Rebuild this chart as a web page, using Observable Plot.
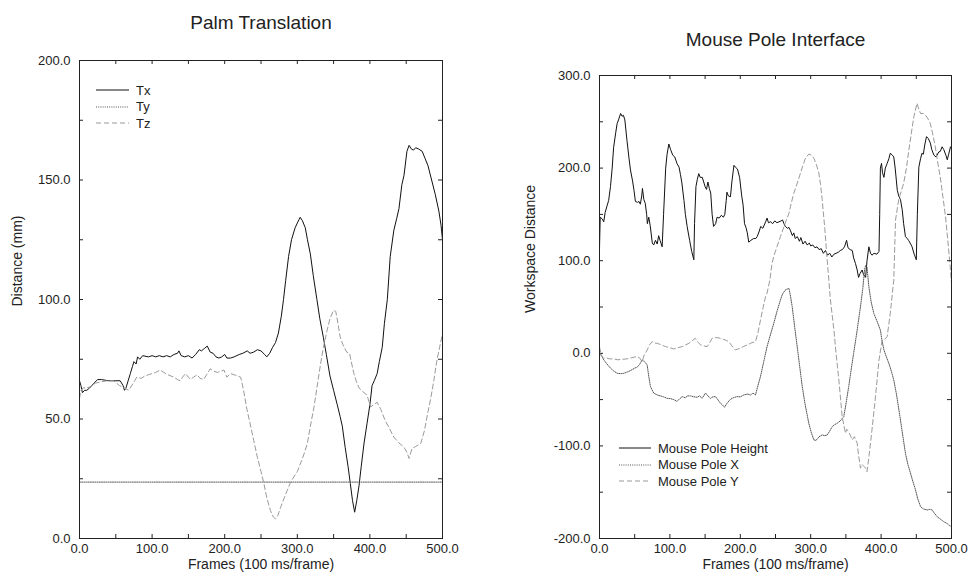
<!DOCTYPE html>
<html><head><meta charset="utf-8">
<script src="https://cdn.jsdelivr.net/npm/d3@7"></script>
<script src="https://cdn.jsdelivr.net/npm/@observablehq/plot@0.6"></script>
<style>
body{margin:0;background:#fff;font-family:"Liberation Sans",Arial,Helvetica,sans-serif;}
#wrap{position:relative;width:968px;height:577px;overflow:hidden;}
.panel{position:absolute;top:0;}
.legend{position:absolute;font-size:13px;color:#222;}
.legend .row{display:flex;align-items:center;height:16.5px;white-space:nowrap;}
.legend svg{display:block;margin-right:7px;}
</style></head><body><div id="wrap"></div><script>
// ---------- Data (frames, value) ----------
const xTicksMinor = [0,50,100,150,200,250,300,350,400,450,500];
const xTicksMajor = [0,100,200,300,400,500];
const leftYTicksMinor = [0,25,50,75,100,125,150,175,200];
const leftYTicksMajor = [0,50,100,150,200];
const rightYTicksMinor = [-200,-150,-100,-50,0,50,100,150,200,250,300];
const rightYTicksMajor = [-200,-100,0,100,200,300];

const tx = [[0,66],[2,64],[4,61],[7,62],[10,62],[14,63],[20,65],[25,66.5],[30,66.5],[40,66],[50,66],[56,66],[60,64],[62,62],[64,63],[67,66],[70,69],[73,72],[75,74],[78,73],[80,76],[83,75],[87,76.5],[95,76],[100,76.5],[105,76],[110,76.5],[115,76],[120,76.5],[125,76],[130,77],[135,77.5],[137,78.5],[140,76.5],[145,76],[150,76.5],[155,75.5],[160,77],[165,79],[168,78.5],[172,79.5],[176,80.5],[180,78],[184,77.5],[188,76],[192,75.5],[196,76],[200,77],[203,75.5],[208,75.5],[213,76],[220,77],[225,77.5],[231,78.5],[235,77.5],[240,78],[245,79],[250,78.5],[255,77],[258,76],[262,77.5],[266,80],[270,82],[274,86],[278,93],[281,100],[284,108],[288,118],[292,125],[297,130],[300,132],[304,134.4],[307,133],[311,130],[314,125],[318,119],[322,110],[327,100],[331,92],[336,84],[340,77],[345,68],[350,62],[355,56],[359,51],[362,47],[366,38],[370,30],[373,23],[376,16],[379,11],[382,16],[385,22],[388,30],[392,40],[396,48],[400,56],[403,64],[406,66],[410,69],[413,74],[417,80],[420,90],[424,100],[428,118],[433,129],[437,134],[440,138],[444,148],[447,152],[451,162],[454,164.5],[457,163],[460,162.5],[463,163.5],[467,163],[472,162],[476,159],[480,156],[485,150],[490,144],[495,137],[498,131],[500,125]];
const ty = [[0,23.6],[500,23.6]];
const tz = [[0,58.6],[2,62],[5,63],[10,63],[15,63.5],[22,65],[29,65.5],[38,66],[47,66],[55,64],[62,63],[68,62],[72,64],[76,66],[79,67.5],[85,67],[90,68],[95,68.5],[100,69],[105,69.5],[111,70.5],[116,69.5],[122,68.5],[130,67.5],[135,66.5],[139,66],[142,67.5],[146,69],[150,67.5],[153,66.5],[157,67.5],[162,68.5],[166,67],[171,66.5],[175,68.5],[180,71],[185,70],[190,69.5],[195,70],[199,70.5],[203,67.5],[208,69],[213,68.5],[218,68],[222,67.5],[226,62],[230,55],[235,48],[240,41],[245,34],[250,28],[254,23],[258,17],[263,11.7],[267,9],[270,8.2],[273,9.5],[277,13],[282,17],[286,20],[290,23],[295,25.7],[300,28],[306,32.6],[310,36],[314,40],[318,47],[323,55],[327,63],[332,73],[336,80],[341,87],[345,92],[350,95.5],[353,95],[356,90],[359,84.4],[363,81],[368,78],[372,77.5],[375,73],[378,69],[381,66],[385,63],[390,61.5],[396,60],[401,55],[405,56],[410,57],[415,54],[421,49.4],[427,46],[433,42.4],[440,40],[447,38.2],[451,36],[454,33.5],[458,37.7],[463,38.5],[470,39.7],[475,45],[480,53],[484,59],[488,66],[492,74],[496,80],[500,85.7]];

const poleHeight = [[0,113],[1,147],[4,145],[6,142],[8,152],[11,160],[13,165],[15.6,180],[18,200],[20,222],[23,238],[25,248],[27,252],[30,259],[32,256],[34,257],[36,252],[39,230],[42,210],[44,198],[47,186],[49,176],[51,164],[54,163],[56,164],[58,161],[60,170],[61,178],[63,166],[65,162],[67,150],[68,140],[70,147],[72,138],[75,119],[77,117],[79.5,122],[82,118],[84,127],[86,122],[89,115],[91,150],[94,200],[96,215],[98.5,226],[101,220],[104,214],[107,212],[110,205],[113,201],[115,193],[117,184],[120,165],[122,150],[124.5,137],[128,122],[131,110],[134,101],[135,140],[137,180],[139,188],[141,194],[143,190],[146,190],[148,185],[150,180],[152,177],[154,185],[156,178],[158,173],[160,150],[162,137],[165,140],[167,147],[170,146],[173,149],[176,147],[178,150],[180,165],[181,174],[183,170],[186,169],[188,185],[191,203],[193,201],[196,199],[199,190],[202,170],[204,160],[206,140],[208,136],[210,130],[212,120],[215,122],[219,124],[222,124],[224,126],[227,132],[229,137],[232,135],[236,142],[238,146],[240,141],[243,142],[246,140],[249,143],[252,141],[255,142],[258,143],[260,144],[262,140],[264,137],[267,135],[269,136],[271,133],[274,127],[276,130],[278,124],[281,126],[284,121],[286,125],[289,118],[292,121],[295,117],[298,119],[300,116],[303,117],[306,114],[309,115],[312,112],[315,113],[318,108],[321,111],[324,106],[327,108],[330,104],[333,107],[336,108],[339,109],[342,111],[345,112],[348,115],[351,122],[353,114],[356,112],[359,111],[361,103],[363.6,97],[366,90],[368,82],[370,86],[373,90],[375,85],[378,82],[380,100],[382.6,115],[385,108],[387,106],[390,108],[394,107],[397,110],[398,150],[399,200],[400.6,205],[402,195],[404,190],[406,200],[408.6,205],[411,210],[413,216],[416,214],[418,212],[420,200],[423,176],[425,170],[427.5,166],[430,155],[432,140],[434.6,126],[437,124],[439,122],[442,118],[444,115],[447,107],[450,101],[451.5,150],[453.6,201],[456,210],[458,216],[460,215],[462,225],[464.5,234],[467,232],[470,227],[472,220],[475,214],[478,212],[482,217.5],[484,218],[486.7,223],[489,220],[492,214],[494,209],[496,215],[498.6,223],[500,221]];
const poleX = [[0,0],[3,-3],[6,-7],[10,-11],[15.6,-16],[20,-19],[25,-21.6],[30,-22],[34.6,-21.6],[40,-20],[44,-18.7],[50,-16],[53.5,-15],[57,-12],[60.6,-7.2],[64,-9],[67.7,-12.6],[70,-25],[72.4,-36],[77,-43],[82,-45],[86.6,-46],[91,-47],[96,-48.6],[101,-49],[105.6,-50],[110,-52],[114,-49],[117.4,-46.8],[122,-48],[125,-46],[129,-46],[134,-47],[138.7,-47.5],[142,-46],[145.8,-48.6],[148,-46],[150.6,-43],[154,-46],[157.7,-48.6],[161,-47],[164.8,-46.8],[168,-50],[171.9,-54],[175,-56],[177.6,-58.3],[181,-54],[186,-49.7],[190,-48],[195.5,-46.8],[200,-47],[205,-45],[210,-44],[214.5,-45],[218,-43],[221.6,-45],[225,-35],[228.7,-25],[233,-10],[238,7.2],[242,18],[247.6,32.4],[252,45],[257,57.6],[260,64],[264,68.4],[267,69.5],[269,70.2],[271,63],[273.7,50.4],[277,30],[280.8,7.2],[284,-12],[288,-36],[292,-55],[297.3,-75.6],[301,-86],[304.5,-93.6],[307,-94],[309,-93],[312,-90],[316.3,-88.2],[320,-89],[323.4,-88.2],[327,-84],[330.5,-79.2],[334,-77],[337.6,-75.6],[342,-73],[347,-68.4],[350,-55],[354,-36],[358,-15],[361,0],[366,25],[370.7,50.4],[374,70],[376.5,90],[378,95],[380,93],[382.6,72],[386,55],[389.7,43],[394,35],[399,25],[401,15],[404,3.6],[408,-5],[411,-10.8],[414,-18],[418,-28.8],[422,-45],[427.5,-72],[431,-90],[434.6,-108],[438,-120],[441.8,-129.6],[445,-138],[448.9,-147.6],[452,-157],[456,-165.6],[460,-168],[465.4,-169.2],[469,-168.5],[472.5,-169.2],[476,-173],[479.6,-176.4],[484,-179],[489,-181.8],[494,-184],[497,-186],[500,-187]];
const poleY = [[0,7],[2,0],[4,-4],[6,-5.4],[10,-5],[14,-6],[20,-6],[26,-7],[32,-6.5],[39,-6],[45,-5],[50,-4],[53.5,-3.6],[57,-5],[60.6,-9],[63,-3],[65,0],[67.7,3.6],[71,9],[74.8,12.6],[78,11],[82,10.8],[88,9],[94,7.2],[100,6],[105.6,4.7],[111,6],[117.4,7.2],[122,9],[127,10.8],[131,13],[136,16.2],[140,12],[143.5,9],[148,8],[153,7.2],[157,12],[160,16.2],[166,17],[172,16.2],[176,15],[180,14],[183.7,12.6],[188,8],[193,3.6],[196,4.5],[200,5.4],[205,7.5],[209.8,9],[215,11],[221.6,12.6],[225,22],[228.7,36],[232,48],[235.8,61],[238,65],[242,79],[245,97],[248,106],[252,115],[257,126],[262,136.7],[265,143],[269,151],[272,161],[276,172.8],[281,184],[285.5,194.6],[289,203],[292.6,210.6],[297.3,215.2],[301,214],[304.5,210.6],[308,204],[311.6,194.6],[314,182],[316.3,166],[320,135],[323.4,101],[325.8,79],[328,57.6],[333,25],[336,0],[340,-28.8],[344.7,-68.4],[349.4,-86.4],[351,-82],[354,-84.6],[357,-90],[359,-93.6],[362,-90],[366,-97],[368,-110],[370.7,-124],[373,-120],[375.5,-122],[378,-124],[380,-127.8],[383,-110],[387,-83],[392,-47],[397,-7.2],[401.5,14.4],[405,15],[408.6,18],[413,43],[418,79],[420.5,144],[425,166],[432,183.6],[436,200],[439.4,219.5],[443,238],[446.5,255.5],[451,270],[453,265],[456,259],[460,259],[463,257],[466,254],[470,248],[473,238],[477,223],[480,208],[484,190.5],[488,168],[491.5,147.5],[495,120],[498,95],[500,75.6]];

const leftTitle = "Palm Translation";
const rightTitle = "Mouse Pole Interface";
const xLabel = "Frames (100 ms/frame)";
const leftYLabel = "Distance (mm)";
const rightYLabel = "Workspace Distance";
const leftNames = ["Tx","Ty","Tz"];
const rightNames = ["Mouse Pole Height","Mouse Pole X","Mouse Pole Y"];

// ---------- Styles ----------
const INK = "#222";
const styles = [
  {stroke:"#111", dash:null, width:1},
  {stroke:"#555", dash:"1,1.2", width:1},
  {stroke:"#9a9a9a", dash:"5,3", width:1}
];
const FONT = '"Liberation Sans", Arial, Helvetica, sans-serif';
const fmt = d => d.toFixed(1);

function panel(o) {
  const fw = o.width - o.ml - o.mr, fh = o.height - o.mt - o.mb, T = 4;
  return Plot.plot({
    width: o.width, height: o.height,
    marginLeft: o.ml, marginRight: o.mr, marginTop: o.mt, marginBottom: o.mb,
    style: {fontFamily: FONT, fontSize: "13px", color: INK, background: "#fff"},
    x: {domain: [0, 500]},
    y: {domain: o.yDomain},
    marks: [
      ...o.series.map((s, i) => Plot.line(s, {x: d => d[0], y: d => d[1], stroke: styles[i].stroke, strokeWidth: styles[i].width, strokeDasharray: styles[i].dash})),
      Plot.ruleX(xTicksMinor, {x: d => d, insetTop: fh - T, stroke: INK}),
      Plot.ruleX(xTicksMinor, {x: d => d, insetBottom: fh - T, stroke: INK}),
      Plot.ruleY(o.yMinor, {y: d => d, insetRight: fw - T, stroke: INK}),
      Plot.ruleY(o.yMinor, {y: d => d, insetLeft: fw - T, stroke: INK}),
      Plot.frame({stroke: INK}),
      Plot.axisX({ticks: xTicksMajor, tickSize: 0, tickPadding: 5, tickFormat: fmt, label: null, fontSize: 13}),
      Plot.axisY({ticks: o.yMajor, tickSize: 0, tickPadding: 9, tickFormat: fmt, label: null, fontSize: 13}),
      Plot.text([o.title], {text: d => d, frameAnchor: "top", dy: o.titleDy, fontSize: 19, fill: INK}),
      Plot.text([xLabel], {text: d => d, frameAnchor: "bottom", dy: 30, fontSize: 14, fill: INK}),
      Plot.text([o.yLabel], {text: d => d, frameAnchor: "left", dx: o.yLabelDx, dy: o.yLabelDy, rotate: -90, fontSize: 14, fill: INK})
    ]
  });
}

const wrap = document.getElementById("wrap");
function place(node, left) {
  const d = document.createElement("div");
  d.className = "panel"; d.style.left = left + "px";
  d.appendChild(node); wrap.appendChild(d);
}
place(panel({width: 484, height: 577, ml: 79, mr: 42, mt: 60, mb: 39, yDomain: [0, 200],
  yMinor: leftYTicksMinor, yMajor: leftYTicksMajor, series: [tx, ty, tz],
  title: leftTitle, titleDy: -45, yLabel: leftYLabel, yLabelDx: -62, yLabelDy: 7}), 0);
place(panel({width: 484, height: 577, ml: 115, mr: 17, mt: 75, mb: 39, yDomain: [-200, 300],
  yMinor: rightYTicksMinor, yMajor: rightYTicksMajor, series: [poleHeight, poleX, poleY],
  title: rightTitle, titleDy: -43, yLabel: rightYLabel, yLabelDx: -69, yLabelDy: 6}), 484);

function legend(names, left, top, lineW) {
  const box = document.createElement("div");
  box.className = "legend";
  box.style.left = left + "px"; box.style.top = top + "px";
  names.forEach((n, i) => {
    const row = document.createElement("div"); row.className = "row";
    const s = styles[i];
    row.innerHTML = `<svg width="${lineW}" height="4"><line x1="0" x2="${lineW}" y1="2" y2="2" stroke="${s.stroke}" stroke-width="${s.width}" ${s.dash ? `stroke-dasharray="${s.dash}"` : ""}/></svg><span>${n}</span>`;
    box.appendChild(row);
  });
  wrap.appendChild(box);
}
legend(leftNames, 96, 82, 33);
legend(rightNames, 619, 440, 32);
</script></body></html>
